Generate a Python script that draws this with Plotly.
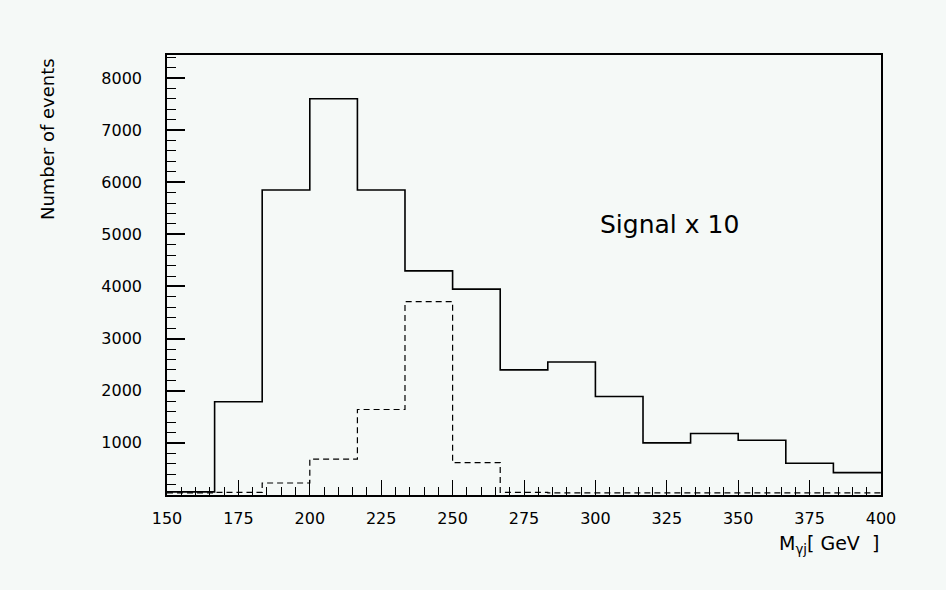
import plotly.graph_objects as go

# Bin edges of the M_gammaj histogram (GeV)
bin_edges = [150.0, 166.67, 183.33, 200.0, 216.67, 233.33, 250.0, 266.67,
             283.33, 300.0, 316.67, 333.33, 350.0, 366.67, 383.33, 400.0]
# Background (solid) counts per bin
background = [60, 1790, 5850, 7600, 5850, 4300, 3950, 2400, 2550, 1890,
              1000, 1180, 1050, 610, 430]
# Signal x 10 (dashed) counts per bin
signal_x10 = [40, 50, 230, 690, 1640, 3710, 620, 50, 40, 40, 40, 40, 40, 40, 40]

x_ticks = [150, 175, 200, 225, 250, 275, 300, 325, 350, 375, 400]
y_ticks = [1000, 2000, 3000, 4000, 5000, 6000, 7000, 8000]

BG = "#f5f9f7"
FONT = "DejaVu Sans"

fig = go.Figure()
fig.add_trace(go.Scatter(
    x=bin_edges, y=background + [background[-1]],
    mode="lines", line=dict(shape="hv", color="black", width=1.6),
    showlegend=False, hoverinfo="skip"))
fig.add_trace(go.Scatter(
    x=bin_edges, y=signal_x10 + [signal_x10[-1]],
    mode="lines", line=dict(shape="hv", color="black", width=1.2, dash="6px,4px"),
    showlegend=False, hoverinfo="skip"))

fig.update_layout(
    width=946, height=590,
    paper_bgcolor=BG, plot_bgcolor=BG,
    margin=dict(l=167, r=65, t=55, b=94.5),
    font=dict(family=FONT, size=16, color="black"),
    xaxis=dict(range=[150, 400], tickvals=x_ticks, ticks="inside", ticklen=15,
               tickwidth=1.2, tickcolor="black", showline=True, linecolor="black",
               linewidth=1.5, mirror=True, showgrid=False, zeroline=False,
               ticklabelstandoff=8,
               minor=dict(dtick=5, ticks="inside", ticklen=8, tickcolor="black",
                          tickwidth=1, showgrid=False)),
    yaxis=dict(range=[0, 8440], tickvals=y_ticks, ticks="inside", ticklen=18,
               tickwidth=1.5, tickcolor="black", showline=True, linecolor="black",
               linewidth=1.5, mirror=True, showgrid=False, zeroline=False,
               ticklabelstandoff=20,
               minor=dict(dtick=200, ticks="inside", ticklen=9, tickcolor="black",
                          tickwidth=1.2, showgrid=False)),
    annotations=[
        dict(text="Number of events", textangle=-90, xref="paper", yref="paper",
             x=-0.168, y=0.809, xanchor="center", yanchor="middle",
             showarrow=False, font=dict(family=FONT, size=18)),
        dict(text="M<sub>γj</sub>[ GeV  ]", xref="paper", yref="paper",
             x=1.0, y=-0.112, xanchor="right", yanchor="middle",
             showarrow=False, font=dict(family=FONT, size=19)),
        dict(text="Signal x 10", xref="x", yref="y", x=326, y=5180,
             xanchor="center", yanchor="middle", showarrow=False,
             font=dict(family=FONT, size=25)),
    ],
)

fig.write_html(
    "out.html",
    config={"displayModeBar": False},
    post_script="document.body.style.margin='0';"
                "document.body.style.background='%s';"
                "document.documentElement.style.overflow='hidden';" % BG,
)
